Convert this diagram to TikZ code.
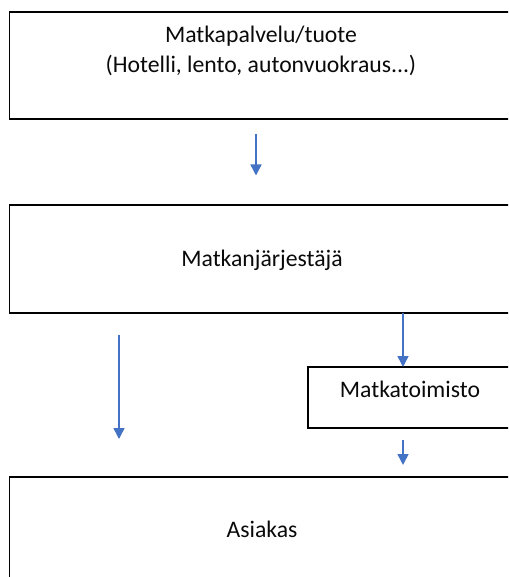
\documentclass[tikz,border=0pt]{standalone}
\usepackage{fontspec}
\setmainfont{Carlito}
\usetikzlibrary{arrows.meta}
\definecolor{arrowblue}{HTML}{4472C4}
\definecolor{textgray}{HTML}{0A0A0A}
\begin{document}
\begin{tikzpicture}[x=1pt,y=-1pt,
  box/.style={draw=black, line width=1.6pt, rectangle, inner sep=0pt, outer sep=0pt},
  lbl/.style={anchor=base, inner sep=0pt, text=textgray, font=\fontsize{23.7}{29}\selectfont},
  flow/.style={draw=arrowblue, line width=1.5pt, -{Triangle[length=11pt,width=11pt]}}]
\useasboundingbox (0,0) rectangle (508,577);
\clip (0,0) rectangle (508,577);
\fill[white] (0,0) rectangle (508,577);
% boxes
\node[box, minimum width=505pt, minimum height=107pt] (b1) at (262,65.5) {};
\node[box, minimum width=505pt, minimum height=108pt] (b2) at (262,259) {};
\node[box, minimum width=205pt, minimum height=61pt] (b3) at (410.5,397.5) {};
\node[box, minimum width=505pt, minimum height=130pt] (b4) at (262,542) {};
% texts
\node[lbl] (t1) at (261,43) {Matkapalvelu/tuote};
\node[lbl] (t2) at (261,73) {(Hotelli, lento, autonvuokraus...)};
\node[lbl] (t3) at (262,266) {Matkanjärjestäjä};
\node[lbl] (t4) at (410,397.5) {Matkatoimisto};
\node[lbl] (t5) at (262,537) {Asiakas};
% arrow end points
\coordinate (a1s) at (256,134);
\coordinate (a1e) at (256,175.5);
\coordinate (a2x) at (403,0);
\coordinate (a3s) at (119,335);
\coordinate (a3e) at (119,439);
\coordinate (a4s) at (403,440);
\coordinate (a4e) at (403,465);
% arrows
\draw[flow] (a1s) -- (a1e);
\draw[flow] (b2.south -| a2x) -- (b3.north -| a2x);
\draw[flow] (a3s) -- (a3e);
\draw[flow] (a4s) -- (a4e);
\end{tikzpicture}
\end{document}
